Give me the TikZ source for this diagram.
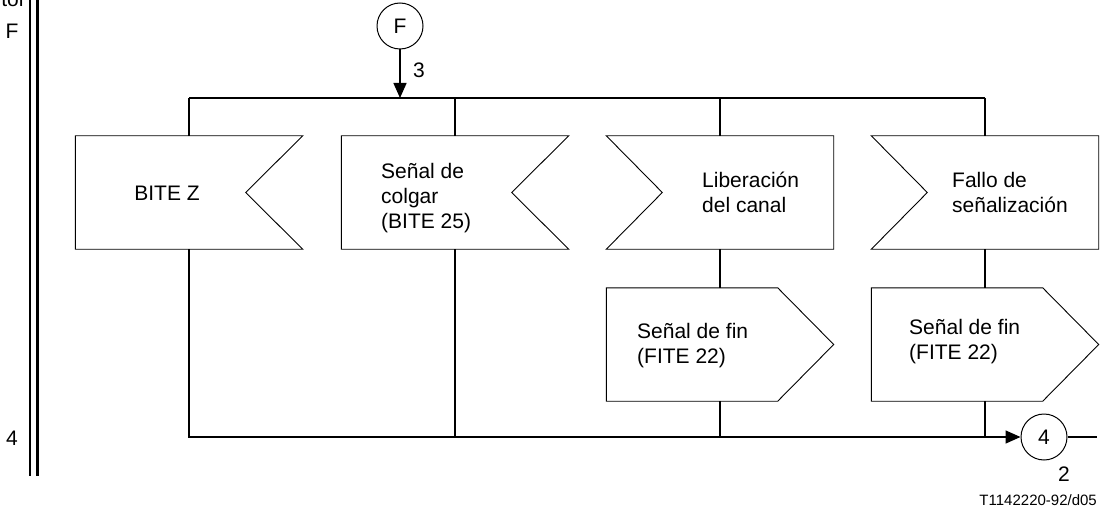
\documentclass[tikz,border=0pt]{standalone}
\usepackage{fontspec}
\setmainfont{Liberation Sans}
\usetikzlibrary{calc,arrows.meta}
\begin{document}
\begin{tikzpicture}[x=1pt,y=-1pt,
  box/.style={draw=none,minimum width=227pt,minimum height=113pt,inner sep=0pt},
  outline/.style={draw,line width=0.9pt,line join=miter},
  conn/.style={line width=1.5pt},
  lbl/.style={font=\fontsize{21}{25}\selectfont,inner sep=0pt,align=left},
  circ/.style={circle,draw,line width=1pt,minimum size=46pt,inner sep=0pt,font=\fontsize{21}{24}\selectfont},
  tip/.style={-{Triangle[length=15pt,width=13pt]}}
]
\useasboundingbox (0,0) rectangle (1107,513);

% left border double line
\draw[line width=2.2pt] (30,-5) -- (30,476);
\draw[line width=2.2pt] (37.5,-5) -- (37.5,476);
\node[lbl,anchor=base east] (tor) at (26,7) {tor};
\node[lbl] (lF) at (12,31) {F};
\node[lbl] (l4) at (12,438) {4};

% boxes (invisible frames)
\node[box] (b1) at (189,192.5) {};
\node[box] (b2) at (455,192.5) {};
\node[box] (b3) at (720,192.5) {};
\node[box] (b4) at (985,192.5) {};
\node[box] (b5) at (720,344.5) {};
\node[box] (b6) at (985,344.5) {};

% input symbols, notch on the right
\foreach \b in {b1,b2}
  \draw[outline] (\b.north west) -- (\b.north east) -- ($(\b.east)+(-57,0)$) -- (\b.south east) -- (\b.south west) -- cycle;
% input symbols, notch on the left
\foreach \b in {b3,b4}
  \draw[outline] (\b.north west) -- (\b.north east) -- (\b.south east) -- (\b.south west) -- ($(\b.west)+(56,0)$) -- cycle;
% output symbols
\foreach \b in {b5,b6}
  \draw[outline] (\b.north west) -- ($(\b.north east)+(-56,0)$) -- (\b.east) -- ($(\b.south east)+(-56,0)$) -- (\b.south west) -- cycle;

% texts
\node[lbl] (t1) at (167,193) {BITE Z};
\node[lbl,anchor=west] (t2) at (381,198) {Señal de\\colgar\\(BITE 25)};
\node[lbl,anchor=west] (t3) at (702,192.5) {Liberación\\del canal};
\node[lbl,anchor=west] (t4) at (952,192.5) {Fallo de\\señalización};
\node[lbl,anchor=west] (t5) at (637,345.5) {Señal de fin\\(FITE 22)};
\node[lbl,anchor=west] (t6) at (909,342) {Señal de fin\\(FITE 22)};

% circles
\node[circ] (cF) at (400,26) {F};
\node[circ] (c4) at (1044,437) {4};
\node[lbl] (l3) at (419,70) {3};
\node[lbl] (l2) at (1064,474) {2};

% top distribution line
\coordinate (j) at (400,98);
\draw[conn] (b1.north |- j) -- (b4.north |- j);
\draw[conn,tip] (cF) -- (j);
\foreach \b in {b1,b2,b3,b4}
  \draw[conn] (\b.north |- j) -- (\b.north);

% middle links
\draw[conn] (b3.south) -- (b5.north);
\draw[conn] (b4.south) -- (b6.north);

% bottom collection line
\draw[conn,tip] (b1.south) |- (c4);
\foreach \b in {b2,b5,b6}
  \draw[conn] (\b.south) -- (\b.south |- c4);
\coordinate (e) at (1097,437);
\draw[conn] (c4) -- (e);

\node[font=\fontsize{15}{18}\selectfont,anchor=east,inner sep=0pt] (ref) at (1097,500) {T1142220-92/d05};
\end{tikzpicture}
\end{document}
